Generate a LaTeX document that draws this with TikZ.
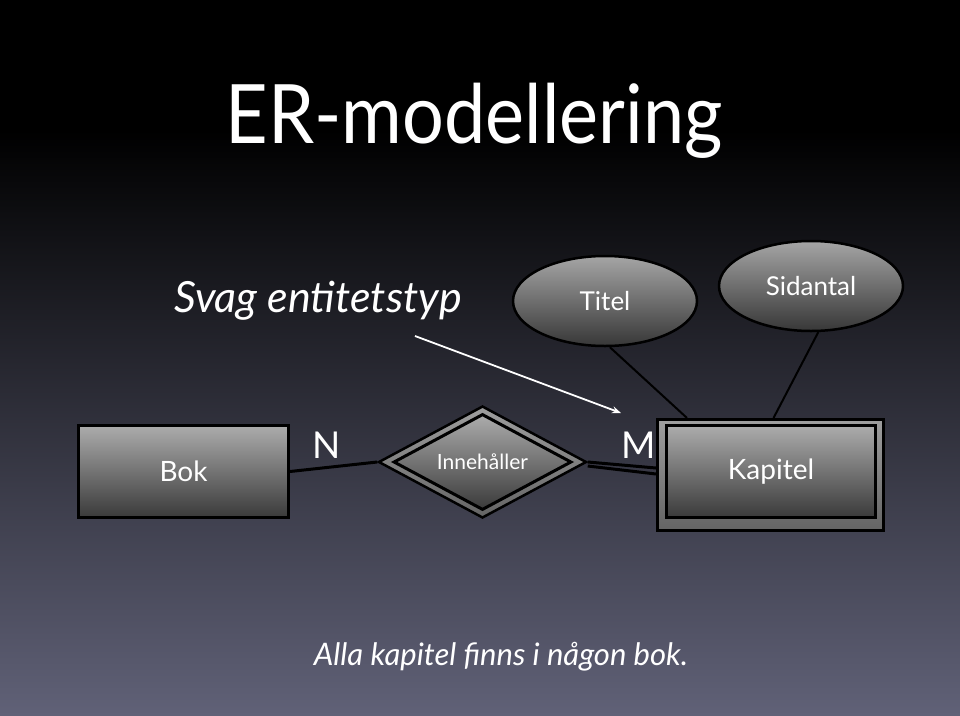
\documentclass[tikz,border=0pt]{standalone}
\usepackage{fontspec}
\setmainfont{Lato}
\newfontfamily\titlefont[FakeStretch=0.9]{Lato}
\usetikzlibrary{shapes.geometric,arrows.meta,calc}
\definecolor{bgmid}{RGB}{34,35,92}
\definecolor{bgbot}{RGB}{96,97,119}
\definecolor{shtop}{RGB}{172,172,172}
\definecolor{shbot}{RGB}{58,58,58}
\definecolor{eltop}{RGB}{165,165,165}
\definecolor{elbot}{RGB}{55,55,55}
\definecolor{bandtop}{RGB}{158,158,158}
\definecolor{bandbot}{RGB}{100,100,100}
\tikzset{
  ent/.style={draw=black, line width=3pt, top color=shtop, bottom color=shbot,
    inner sep=0pt, text=white, font=\fontsize{28}{30}\selectfont},
  attr/.style={ellipse, draw=black, line width=2.5pt, top color=eltop, bottom color=elbot,
    inner sep=0pt, minimum width=184pt, minimum height=90pt, text=white,
    font=\fontsize{26}{28}\selectfont},
  conn/.style={draw=black, line width=3pt},
  aconn/.style={draw=black, line width=2pt},
  card/.style={text=white, font=\fontsize{37}{40}\selectfont, inner sep=0pt, anchor=base},
}
\begin{document}
\begin{tikzpicture}[x=1pt,y=-1pt]
\useasboundingbox (0,0) rectangle (960,715);
\fill[black] (0,0) rectangle (960,130);
\shade[top color=black, middle color=bgmid, bottom color=bgbot] (0,130) rectangle (960,715);

\node[text=white, font=\titlefont\fontsize{82}{90}\selectfont, inner sep=0pt, anchor=base] (title) at (474,143) {ER-modellering};
\node[text=white, font=\fontsize{43}{46}\selectfont\itshape, inner sep=0pt, anchor=base] (weak) at (318,312) {Svag entitetstyp};

\node[attr] (titel) at (605,301) {Titel};
\node[attr] (sid) at (811,286) {Sidantal};

\node[ent, minimum width=210pt, minimum height=92pt] (bok) at (183.5,471.5) {Bok};

\node[diamond, draw=black, line width=2.5pt, top color=bandtop, bottom color=bandbot,
  minimum width=208pt, minimum height=112pt, inner sep=0pt] (rel) at (482.5,462) {};
\node[diamond, aspect=2, draw=black, line width=3pt, top color=shtop, bottom color=shbot,
  minimum width=178pt, minimum height=96pt, inner sep=0pt, text=white,
  font=\fontsize{21}{23}\selectfont] (relin) at (482.5,462) {Innehåller};

\node[draw=black, line width=3pt, top color=bandtop, bottom color=bandbot,
  minimum width=226pt, minimum height=111pt, inner sep=0pt] (kap) at (770.5,475) {};
\node[ent, minimum width=209pt, minimum height=92pt] (kapin) at (771,471.5) {Kapitel};

\node[card] (n) at (327,458) {N};
\node[card] (m) at (639,458) {M};

\draw[conn] (bok.east) -- (rel.west);
\draw[conn] (rel.east) -- ($(kap.west)+(0,-7)$);
\draw[conn] ($(rel.east)+(0,4)$) -- ($(kap.west)+(0,-1)$);
\draw[aconn] (titel.-84) -- ($(kap.north west)+(31,0)$);
\draw[aconn] (sid.-81) -- ($(kap.north)+(3,0)$);

\coordinate (as) at (415,336);
\coordinate (ae) at (621,413);
\draw[white, line width=1.8pt, -{Stealth[length=9pt,width=7pt]}] (as) -- (ae);

\node[text=white, font=\fontsize{31}{34}\selectfont\itshape, inner sep=0pt, anchor=base] (foot) at (501,665) {Alla kapitel finns i någon bok.};
\end{tikzpicture}
\end{document}
